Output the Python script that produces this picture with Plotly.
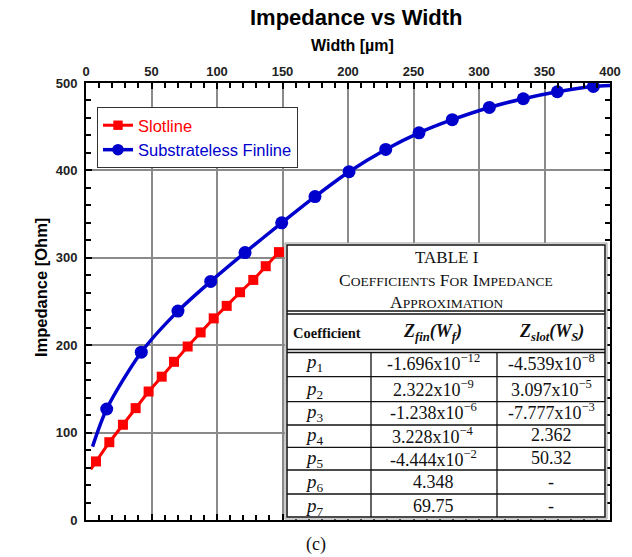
import plotly.graph_objects as go

# ---------------- data ----------------
slot_x = [7.6, 17.8, 28.2, 37.9, 47.8, 57.8, 67.2, 77.6, 87.5, 97.5, 107.4, 117.6, 127.7, 137.2, 147.3]
slot_y = [67, 89, 109, 128, 147, 164, 181, 198.5, 214.6, 230.7, 245, 260.6, 274.7, 290.4, 306.5]
slot_start = (3.6, 58)

fin_x = [15.8, 42.2, 70.2, 95.2, 121.4, 149.4, 174.8, 200.8, 228.8, 254.2, 279.6, 307.9, 333.8, 359.8, 387.3]
fin_y = [127, 192, 239, 273, 306, 340, 370, 398.5, 424, 443, 458, 472, 482, 490, 496]
fin_start = (5.0, 84)
fin_end = (400, 497)

x_ticks = [0, 50, 100, 150, 200, 250, 300, 350, 400]
y_ticks = [0, 100, 200, 300, 400, 500]

table_coef = ["<i>p</i><sub>1</sub>", "<i>p</i><sub>2</sub>", "<i>p</i><sub>3</sub>", "<i>p</i><sub>4</sub>",
              "<i>p</i><sub>5</sub>", "<i>p</i><sub>6</sub>", "<i>p</i><sub>7</sub>"]
table_fin = ["-1.696x10<sup>−12</sup>", "2.322x10<sup>−9</sup>", "-1.238x10<sup>−6</sup>",
             "3.228x10<sup>−4</sup>", "-4.444x10<sup>−2</sup>", "4.348", "69.75"]
table_slot = ["-4.539x10<sup>−8</sup>", "3.097x10<sup>−5</sup>", "-7.777x10<sup>−3</sup>",
              "2.362", "50.32", "-", "-"]

# ---------------- layout geometry ----------------
W, H = 632, 557
L, R, T, B = 86, 22, 83, 37
PW, PH = W - L - R, H - T - B


def px(p):
    return (p - L) / PW


def py(p):
    return (H - B - p) / PH


RED = "#ff0000"
BLUE = "#0000cc"
SANS = "Liberation Sans"
SERIF = "Liberation Serif"

fig = go.Figure()

sx = [slot_start[0]] + slot_x
sy = [slot_start[1]] + slot_y
fig.add_trace(go.Scatter(
    x=sx, y=sy, mode="lines+markers",
    name="<span style='color:%s'>Slotline</span>" % RED,
    line=dict(color=RED, width=3),
    marker=dict(symbol="square", color=RED, opacity=1, line=dict(width=0),
                size=[0] + [10] * len(slot_x)),
))

fx = [fin_start[0]] + fin_x + [fin_end[0]]
fy = [fin_start[1]] + fin_y + [fin_end[1]]
fig.add_trace(go.Scatter(
    x=fx, y=fy, mode="lines+markers",
    name="<span style='color:%s'>Substrateless Finline</span>" % BLUE,
    line=dict(color=BLUE, width=3.5, shape="spline", smoothing=0.8),
    marker=dict(symbol="circle", color=BLUE, opacity=1, line=dict(width=0),
                size=[0] + [13] * len(fin_x) + [0]),
))

axis_common = dict(
    showline=True, linecolor="black", linewidth=2, mirror="allticks",
    ticks="inside", ticklen=6, tickwidth=1.5, tickcolor="black",
    showgrid=True, gridcolor="#8a8a8a", gridwidth=1.5,
    zeroline=False,
    tickfont=dict(family=SANS, size=13, color="#222", weight="bold"),
)

fig.update_layout(
    width=W, height=H,
    margin=dict(l=L, r=R, t=T, b=B),
    paper_bgcolor="white", plot_bgcolor="white",
    showlegend=True,
    legend=dict(
        x=px(97), y=py(107), xanchor="left", yanchor="top",
        bgcolor="white", bordercolor="#333", borderwidth=1,
        font=dict(family=SANS, size=16.5),
        tracegroupgap=0, itemwidth=30,
    ),
    xaxis=dict(
        range=[0, 400], side="top", tickvals=x_ticks,
        minor=dict(dtick=10, ticks="inside", ticklen=5, tickcolor="black", tickwidth=1.5, showgrid=False),
        **axis_common,
    ),
    yaxis=dict(
        range=[0, 500], tickvals=y_ticks,
        minor=dict(dtick=20, ticks="inside", ticklen=5, tickcolor="black", tickwidth=1.5, showgrid=False),
        ticklabelstandoff=4,
        **axis_common,
    ),
)

ann = []
shapes = []


def txt(s, xp, yp, size=16, family=SERIF, color="#111", angle=0):
    ann.append(dict(text=s, x=px(xp), y=py(yp), xref="paper", yref="paper", showarrow=False,
                    xanchor="center", yanchor="middle", textangle=angle,
                    font=dict(family=family, size=size, color=color)))


# titles
txt("<b>Impedance vs Width</b>", 356, 18, size=22, family=SANS, color="black")
txt("<b>Width [µm]</b>", 352, 46, size=16, family=SANS, color="black")
txt("<b>Impedance [Ohm]</b>", 41, 288, size=16.5, family=SANS, color="black", angle=-90)
txt("(c)", 316, 544, size=18)

# ---------------- table ----------------
tl, tr, tt, tb = 287, 605, 245, 517
shapes.append(dict(type="rect", xref="paper", yref="paper", x0=px(tl - 2), x1=px(tr + 2), y0=py(tt - 2), y1=py(tb + 2),
                   fillcolor="white", line=dict(color="#999", width=1), layer="above"))
shapes.append(dict(type="rect", xref="paper", yref="paper", x0=px(tl), x1=px(tr), y0=py(tt), y1=py(tb),
                   fillcolor="white", line=dict(color="#111", width=1.5), layer="above"))


def hline(yp, w=1.3):
    shapes.append(dict(type="line", xref="paper", yref="paper", x0=px(tl), x1=px(tr), y0=py(yp), y1=py(yp),
                       line=dict(color="#111", width=w), layer="above"))


def vline(xp, y0p, y1p, w=1.3):
    shapes.append(dict(type="line", xref="paper", yref="paper", x0=px(xp), x1=px(xp), y0=py(y0p), y1=py(y1p),
                       line=dict(color="#111", width=w), layer="above"))


hline(311)
hline(314)
hline(349.5)
hline(352.5)
for yy in [376.7, 401.7, 425, 447.3, 470, 494]:
    hline(yy)
vline(371, 352.5, tb)
vline(497, 352.5, tb)


def sc(word, small=13.5):
    return word[0] + "<span style='font-size:%spx'>%s</span>" % (small, word[1:])


txt("TABLE I", 447, 257, size=17)
txt(" ".join(sc(w) for w in ["COEFFICIENTS", "FOR", "IMPEDANCE"]), 446, 280, size=17.5)
txt(sc("APPROXIMATION"), 446, 302, size=17.5)

txt("<b>Coefficient</b>", 327, 333, size=14.5)
txt("<b><i>Z<sub>fin</sub>(W<sub>f</sub>)</i></b>", 432, 332, size=18)
txt("<b><i>Z<sub>slot</sub>(W<sub>S</sub>)</i></b>", 551, 332, size=18)

row_y = [362, 388.5, 411.5, 435, 458, 482, 506]
for i in range(7):
    txt(table_coef[i], 314, row_y[i] + 1, size=19)
    txt(table_fin[i], 433, row_y[i], size=18)
    txt(table_slot[i], 551, row_y[i], size=18)

fig.update_layout(annotations=ann, shapes=shapes)

fig.write_html("out.html")
